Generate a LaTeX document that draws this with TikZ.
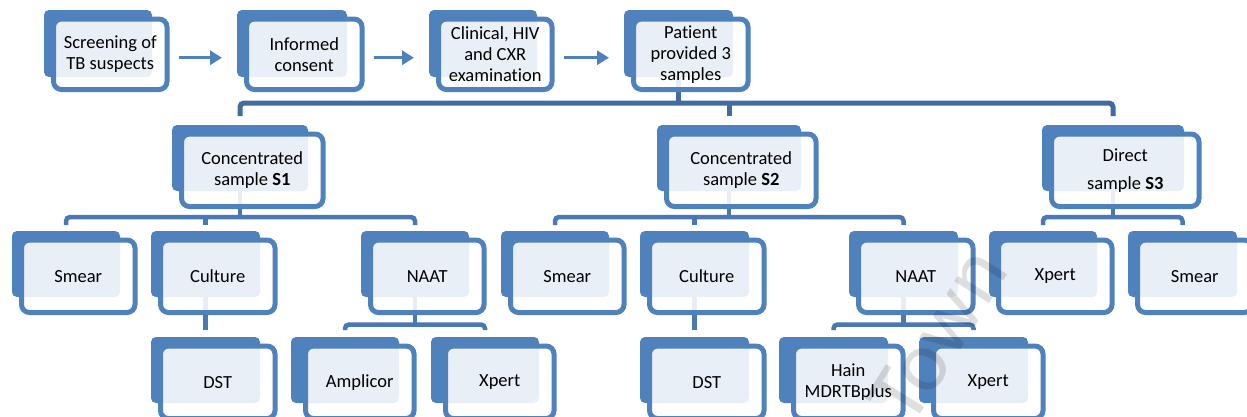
\documentclass[tikz,border=0pt]{standalone}
\usepackage{fontspec}
\setmainfont{Carlito}[Ligatures=NoCommon]
\usetikzlibrary{arrows.meta,backgrounds}

\definecolor{boxblue}{HTML}{4F81BD}
\definecolor{busblue}{HTML}{4A78B2}
\definecolor{topbus}{HTML}{426C9F}

\tikzset{
  backbox/.style={fill=boxblue, draw=none, rounded corners=5pt, inner sep=0pt, outer sep=0pt},
  frontbox/.style={draw=boxblue, line width=5pt, fill=white, fill opacity=0.88,
    text opacity=1, rounded corners=8pt, inner sep=0pt, align=center,
    font=\fontsize{18.5}{21}\selectfont},
  link/.style={draw=busblue, line width=4.5pt, rounded corners=4pt},
  toplink/.style={link, draw=topbus, line width=5pt},
  flow/.style={draw=boxblue, line width=3pt, -{Triangle[length=12pt,width=14pt]}},
}

% #1 name, #2-#5 back panel (x0,y0,x1,y1), #6 left inset of the front panel,
% #7 bottom overhang of the front panel, #8 label
\newcommand\stepcard[8]{%
  \node[backbox, minimum width={#4-#2}, minimum height={#5-#3}]
    (#1b) at ({(#2+#4)/2},{(#3+#5)/2}) {};
  \node[frontbox, minimum width={#4+17.5-#2-#6-5}, minimum height={#5+#7-#3-6.5-5}]
    (#1) at ({(#2+#6+#4+17.5)/2},{(#3+6.5+#5+#7)/2}) {#8};
}

\begin{document}
\begin{tikzpicture}[x=1pt,y=-1pt]
\useasboundingbox (0,0) rectangle (1247,416);
\clip (0,0) rectangle (1247,416);

% intake steps
\stepcard{n1}{44}{10}{152}{77}{7}{15}{Screening of\\TB suspects}
\stepcard{n2}{237}{10}{347}{77}{7}{15}{Informed\\consent}
\stepcard{n3}{429}{10}{537}{77}{7}{15}{Clinical, HIV\\and CXR\\examination}
\stepcard{n4}{624}{10}{733}{77}{7}{15}{Patient\\provided 3\\samples}

% samples
\stepcard{s1}{172}{125}{308}{191}{7}{18}{Concentrated\\sample \textbf{S1}}
\stepcard{s2}{657}{125}{801}{191}{7}{18}{Concentrated\\sample \textbf{S2}}
\stepcard{s3}{1042}{125}{1184}{191}{7}{18}{Direct\\[7pt]sample \textbf{S3}}

% tests
\stepcard{sm1}{12}{231}{120}{297}{7}{18}{Smear}
\stepcard{cu1}{151}{231}{260}{297}{7}{18}{Culture}
\stepcard{na1}{361}{231}{469}{297}{7}{18}{NAAT}
\stepcard{sm2}{501}{231}{609}{297}{7}{18}{Smear}
\stepcard{cu2}{640}{231}{749}{297}{7}{18}{Culture}
\stepcard{na2}{849}{231}{958}{297}{7}{18}{NAAT}
\stepcard{xp3}{989}{231}{1097}{297}{7}{18}{Xpert}
\stepcard{sm3}{1128}{231}{1237}{297}{7}{18}{Smear}

% follow-up tests
\stepcard{dst1}{151}{337}{260}{403}{7}{18}{DST}
\stepcard{amp}{291}{337}{399}{403}{12}{18}{Amplicor}
\stepcard{xp1}{431}{337}{539}{403}{12}{18}{Xpert}
\stepcard{dst2}{640}{337}{749}{403}{7}{18}{DST}
\stepcard{hain}{779}{337}{888}{403}{12}{18}{Hain\\MDRTBplus}
\stepcard{xp2}{919}{337}{1028}{403}{12}{18}{Xpert}

% flow arrows
\draw[flow] ([xshift=9pt,yshift=-3.5pt]n1.east) -- ([xshift=-15pt,yshift=-3.5pt]n1.east -| n2b.west);
\draw[flow] ([xshift=9pt,yshift=-3.5pt]n2.east) -- ([xshift=-15pt,yshift=-3.5pt]n2.east -| n3b.west);
\draw[flow] ([xshift=9pt,yshift=-3.5pt]n3.east) -- ([xshift=-15pt,yshift=-3.5pt]n3.east -| n4b.west);

\coordinate (busT) at (0,103);
\coordinate (busA) at (0,217);
\coordinate (busB) at (0,324.5);

\begin{scope}[on background layer]
  % samples bus
  \draw[toplink] ([yshift=9pt]s1b.north) |- (s3b.center |- busT) -- ([yshift=9pt]s3b.north);
  \draw[toplink] (n4b.center) -- (n4b.center |- busT);
  \draw[toplink] (s2b.north |- busT) -- ([yshift=9pt]s2b.north);
  % S1 tests
  \draw[link] ([yshift=6pt]sm1b.north) |- (na1b.center |- busA) -- ([yshift=6pt]na1b.north);
  \draw[link] (s1b.center) -- (s1b.center |- busA);
  \draw[link] (cu1b.center |- busA) -- ([yshift=6pt]cu1b.north);
  % S2 tests
  \draw[link] ([yshift=6pt]sm2b.north) |- (na2b.center |- busA) -- ([yshift=6pt]na2b.north);
  \draw[link] (s2b.center) -- (s2b.center |- busA);
  \draw[link] (cu2b.center |- busA) -- ([yshift=6pt]cu2b.north);
  % S3 tests
  \draw[link] ([yshift=6pt]xp3b.north) |- (sm3b.center |- busA) -- ([yshift=6pt]sm3b.north);
  \draw[link] (s3b.center) -- (s3b.center |- busA);
  % culture to DST
  \draw[link] (cu1b.center) -- ([yshift=7pt]dst1b.north);
  \draw[link] (cu2b.center) -- ([yshift=7pt]dst2b.north);
  % NAAT branches
  \draw[link] ([yshift=7pt]ampb.north) |- (xp1b.center |- busB) -- ([yshift=7pt]xp1b.north);
  \draw[link] (na1b.center) -- (na1b.center |- busB);
  \draw[link] ([yshift=7pt]hainb.north) |- (xp2b.center |- busB) -- ([yshift=7pt]xp2b.north);
  \draw[link] (na2b.center) -- (na2b.center |- busB);
\end{scope}

% faint watermark
\node[rotate=58, text=black, opacity=0.13, font=\fontsize{86}{86}\selectfont] (wm) at (938,335) {Town};
\end{tikzpicture}
\end{document}
